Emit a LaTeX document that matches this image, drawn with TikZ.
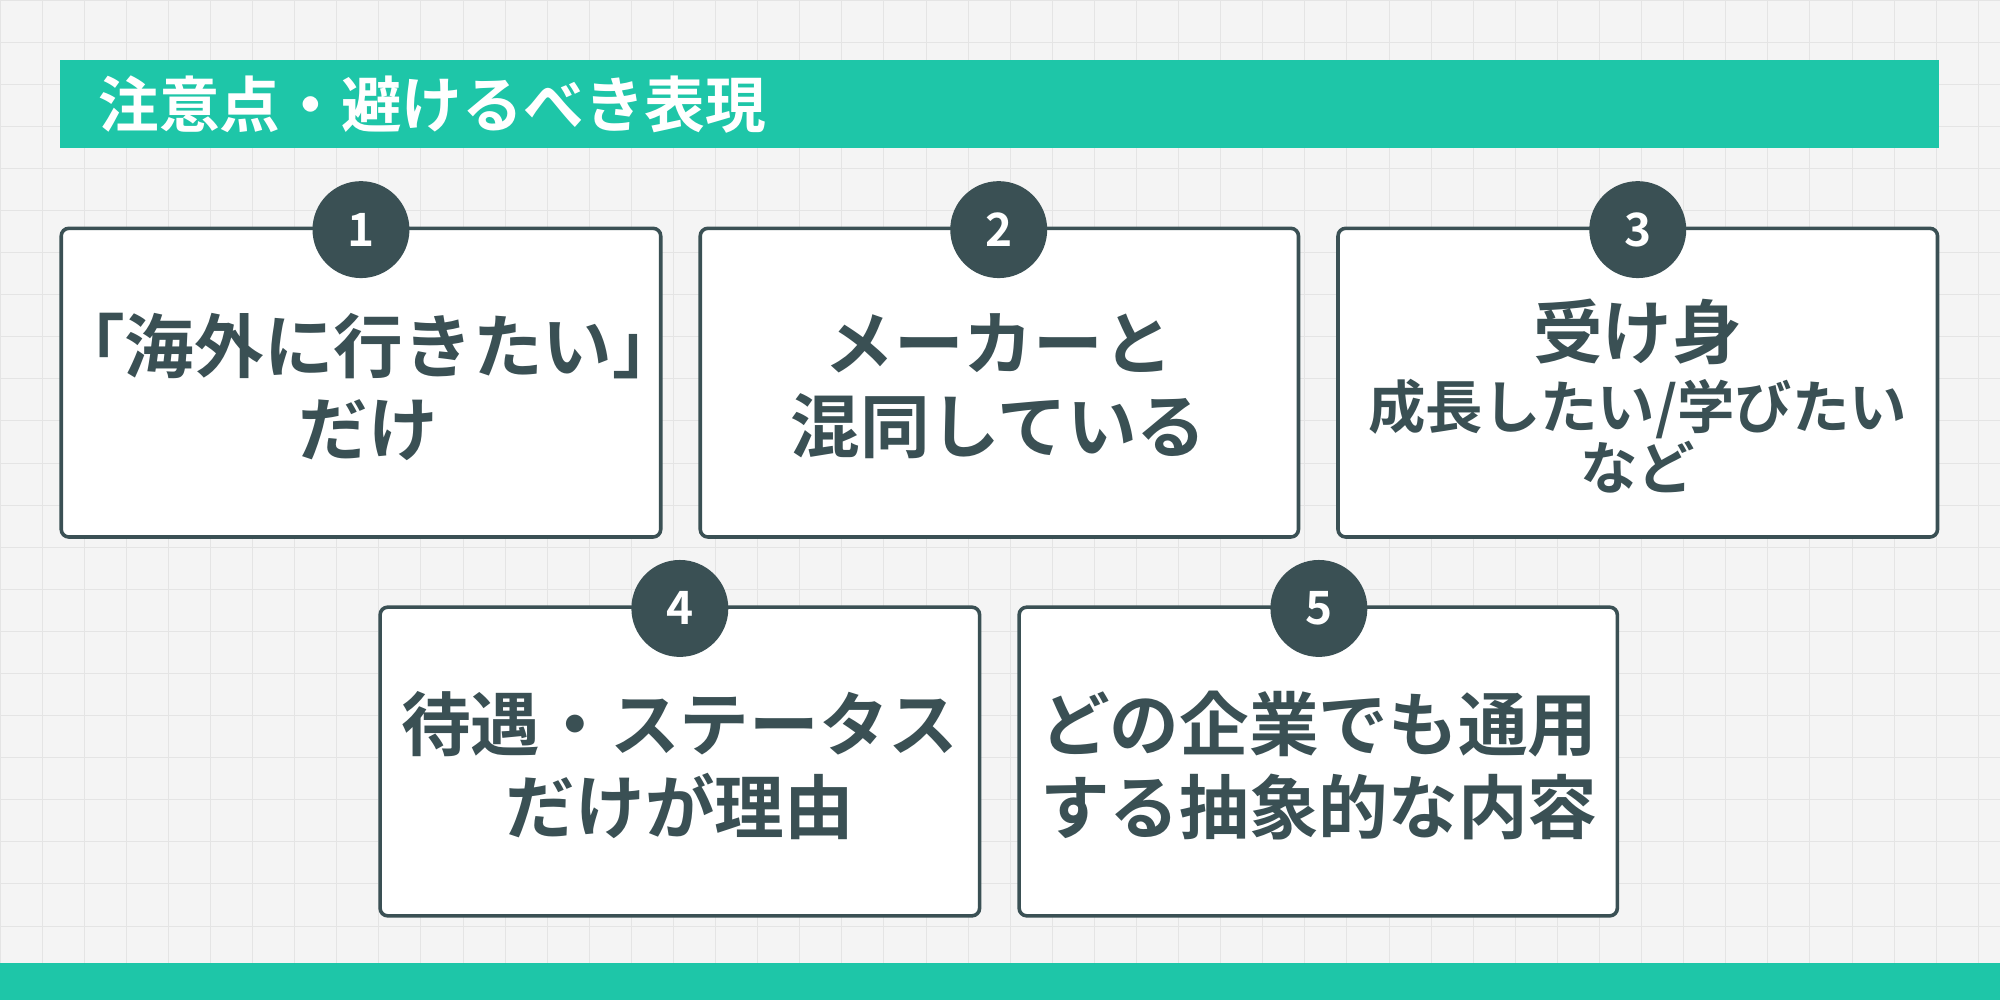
\documentclass[tikz,border=0pt]{standalone}
\usepackage{fontspec}
\setmainfont{Noto Sans CJK JP}[BoldFont={Noto Sans CJK JP Bold}]
\definecolor{teal}{HTML}{1EC6A8}
\definecolor{dark}{HTML}{3A5054}
\definecolor{bg}{HTML}{F4F4F4}
\definecolor{gridc}{HTML}{E4E4E4}
\begin{document}
\begin{tikzpicture}[x=0.5pt,y=-0.5pt,
  card/.style={draw=dark,line width=1.4pt,fill=white,rounded corners=3pt},
  num/.style={circle,fill=dark,minimum size=38pt,inner sep=0pt,text=white,font=\bfseries\fontsize{18}{18}\selectfont},
  txt/.style={align=center,text=dark,font=\bfseries\fontsize{27.3}{32.5}\selectfont},
  small/.style={align=center,text=dark,font=\bfseries\fontsize{22.5}{24}\selectfont}]
\fill[bg] (0,0) rectangle (1568,784);
\useasboundingbox (0,0) rectangle (1568,784);
\foreach \i in {0,33,...,1568} \draw[gridc,line width=0.4pt] (\i,0) -- (\i,784);
\foreach \j in {0,33,...,784} \draw[gridc,line width=0.4pt] (0,\j) -- (1568,\j);
\fill[teal] (47,47) rectangle (1520,116);
\node[anchor=west,text=white,font=\bfseries\fontsize{23.8}{24}\selectfont] (title) at (70,82) {注意点・避けるべき表現};
\fill[teal] (0,755) rectangle (1568,784);
% boxes
\draw[card] (48,179) rectangle (518,421);
\draw[card] (549,179) rectangle (1018,421);
\draw[card] (1049,179) rectangle (1519,421);
\draw[card] (298,476) rectangle (768,718);
\draw[card] (799,476) rectangle (1268,718);
\node[num] (n1) at (283,180) {1};
\node[num] (n2) at (783,180) {2};
\node[num] (n3) at (1284,180) {3};
\node[num] (n4) at (533,477) {4};
\node[num] (n5) at (1034,477) {5};
\node[txt] (t1) at (289,303) {「海外に行きたい」\\だけ};
\node[txt] (t2) at (783,303) {メーカーと\\混同している};
\node[txt] (t3) at (1284,260) {受け身};
\node[small] (t3b) at (1284,342) {成長したい/学びたい\\など};
\node[txt] (t4) at (533,600) {待遇・ステータス\\だけが理由};
\node[txt] (t5) at (1034,600) {どの企業でも通用\\する抽象的な内容};
\end{tikzpicture}
\end{document}
